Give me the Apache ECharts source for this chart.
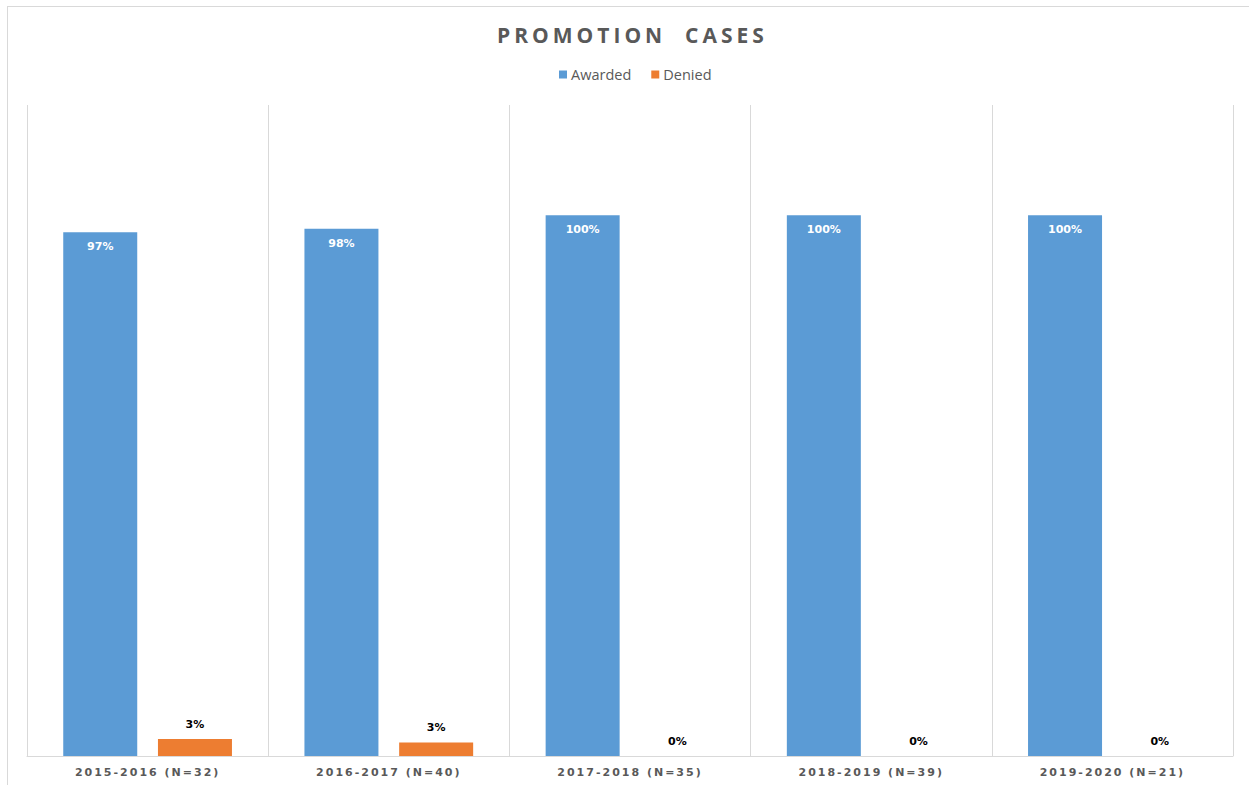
<!DOCTYPE html>
<html>
<head>
<meta charset="utf-8">
<script src="https://cdn.jsdelivr.net/npm/echarts@6/dist/echarts.min.js"></script>
<style>
  html, body { margin: 0; padding: 0; background: #fff; overflow: hidden; }
  #frame { position: absolute; left: 7px; top: 6px; width: 1260px; height: 800px;
           border-left: 1px solid #d9d9d9; border-top: 1px solid #d9d9d9; }
  #container { position: absolute; left: 0; top: 0; width: 1249px; height: 785px; }
</style>
</head>
<body>
<div id="frame"></div>
<div id="container"></div>
<script>
// promotion cases per academic year, shares in percent
var categories = ['2015-2016 (N=32)', '2016-2017 (N=40)', '2017-2018 (N=35)', '2018-2019 (N=39)', '2019-2020 (N=21)'];
var awarded = [96.875, 97.5, 100, 100, 100];
var denied = [3.125, 2.5, 0, 0, 0];
var titulo = 'PROMOTION  CASES';

function pct(p) {
	return Math.round(p.value) + '%';
}

var dom = document.getElementById('container');
var chart = echarts.init(dom, null, { renderer: 'svg' });

var option = {
	animation: false,
	title: {
		text: titulo,
		left: 492,
		top: 19,
		textStyle: {
			fontFamily: 'Open Sans',
			fontWeight: 'bold',
			fontSize: 21,
			color: '#595959'
		}
	},
	legend: {
		data: ['Awarded', 'Denied'],
		top: 62,
		left: 554,
		itemWidth: 8,
		itemHeight: 8,
		itemGap: 20,
		icon: 'rect',
		textStyle: {
			fontFamily: 'Open Sans',
			fontSize: 14.5,
			color: '#595959',
			padding: [0, 0, 0, -1]
		}
	},
	grid: {
		left: 27,
		right: 16,
		top: 105,
		bottom: 29
	},
	xAxis: {
		type: 'category',
		data: categories,
		axisLine: { lineStyle: { color: '#d9d9d9', width: 1 } },
		axisTick: { show: false },
		splitLine: { show: true, lineStyle: { color: '#d9d9d9', width: 1 } },
		axisLabel: {
			margin: 11,
			fontFamily: 'DejaVu Sans',
			fontWeight: 'bold',
			fontSize: 11,
			color: '#595959'
		}
	},
	yAxis: {
		type: 'value',
		min: 0,
		max: 120.4,
		show: false,
		splitLine: { show: false }
	},
	series: [
		{
			name: 'Awarded',
			type: 'bar',
			data: awarded,
			barWidth: 74,
			barGap: '28%',
			itemStyle: { color: '#5b9bd5' },
			label: {
				show: true,
				position: 'insideTop',
				distance: 9,
				formatter: pct,
				fontFamily: 'DejaVu Sans',
				fontWeight: 'bold',
				fontSize: 11,
				color: '#ffffff'
			}
		},
		{
			name: 'Denied',
			type: 'bar',
			data: denied,
			barWidth: 74,
			itemStyle: { color: '#ed7d31' },
			label: {
				show: true,
				position: 'top',
				distance: 9,
				formatter: pct,
				fontFamily: 'DejaVu Sans',
				fontWeight: 'bold',
				fontSize: 11,
				color: '#000000'
			}
		}
	]
};

chart.setOption(option, true);

// espaciado de letras en titulo y etiquetas del eje (como en el original)
function espaciar() {
	var textos = dom.querySelectorAll('text');
	for (var i = 0; i < textos.length; i++) {
		var t = textos[i].textContent;
		if (t === titulo) {
			textos[i].setAttribute('letter-spacing', '4px');
		} else if (categories.indexOf(t) >= 0) {
			textos[i].setAttribute('letter-spacing', '2px');
		}
	}
}
espaciar();
chart.on('finished', espaciar);
</script>
</body>
</html>
